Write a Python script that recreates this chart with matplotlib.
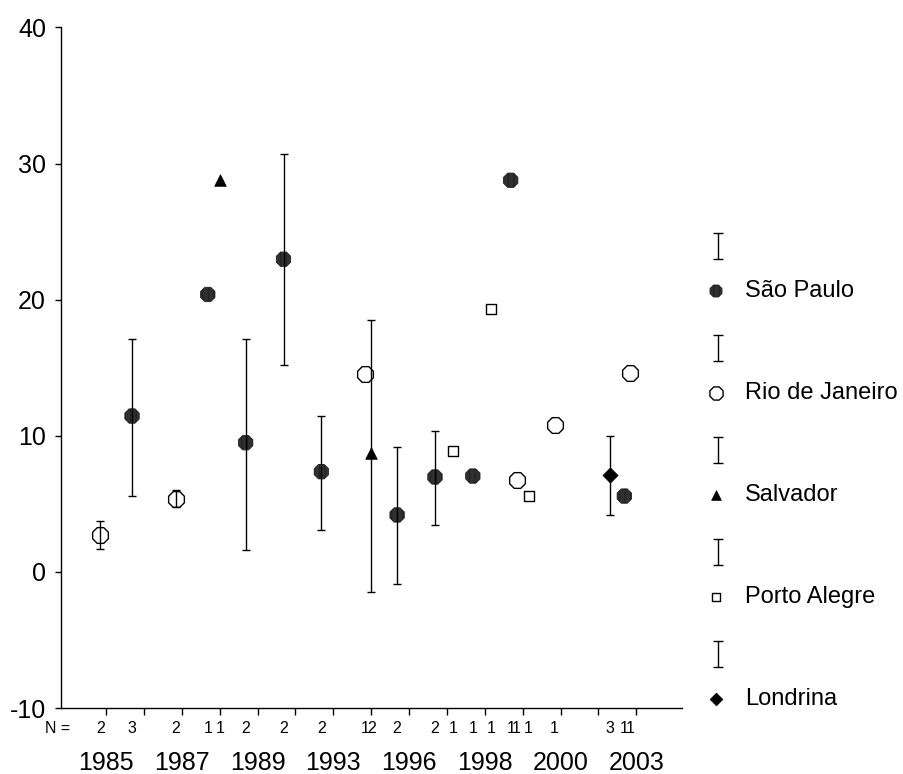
import numpy as np
import matplotlib
matplotlib.use("Agg")
import matplotlib.pyplot as plt

plt.rcParams['font.family'] = ['Liberation Sans', 'DejaVu Sans']
plt.rcParams['axes.unicode_minus'] = False
plt.rcParams['hatch.color'] = '#6a6a6a'
plt.rcParams['hatch.linewidth'] = 0.8

# ---- data ----
years = [1985, 1986, 1987, 1988, 1989, 1990, 1993, 1995,
         1996, 1997, 1998, 1999, 2000, 2002, 2003]
nan = np.nan

cities = ['São Paulo', 'Rio de Janeiro', 'Salvador', 'Porto Alegre', 'Londrina']

sp_years = [1986, 1988, 1989, 1990, 1993, 1996, 1997, 1998, 1999, 2003]
sp_mean = [11.45, 20.38, 9.49, 22.97, 7.36, 4.18, 6.97, 7.04, 28.77, 5.57]
sp_lo = [5.6, nan, 1.61, 15.19, 3.1, -0.89, 3.47, nan, nan, nan]
sp_hi = [17.12, nan, 17.12, 30.68, 11.47, 9.15, 10.34, nan, nan, nan]
sp_n = [3, 1, 2, 2, 2, 2, 2, 1, 1, 1]

rio_years = [1985, 1987, 1995, 1999, 2000, 2003]
rio_mean = [2.73, 5.35, 14.53, 6.72, 10.81, 14.6]
rio_lo = [1.70, 4.74, nan, nan, nan, nan]
rio_hi = [3.76, 5.99, nan, nan, nan, nan]
rio_n = [2, 2, 1, 1, 1, 1]

salv_years = [1988, 1995]
salv_mean = [28.82, 8.7]
salv_lo = [nan, -1.45]
salv_hi = [nan, 18.5]
salv_n = [1, 2]

poa_years = [1997, 1998, 1999]
poa_mean = [8.88, 19.28, 5.6]
poa_lo = [nan, nan, nan]
poa_hi = [nan, nan, nan]
poa_n = [1, 1, 1]

lond_years = [2002]
lond_mean = [7.11]
lond_lo = [4.2]
lond_hi = [9.98]
lond_n = [3]

series = [
    (sp_years, sp_mean, sp_lo, sp_hi, sp_n),
    (rio_years, rio_mean, rio_lo, rio_hi, rio_n),
    (salv_years, salv_mean, salv_lo, salv_hi, salv_n),
    (poa_years, poa_mean, poa_lo, poa_hi, poa_n),
    (lond_years, lond_mean, lond_lo, lond_hi, lond_n),
]

# marker styles per city
styles = [
    dict(marker='8', s=125, facecolor='#303030', edgecolor='#202020', hatch='|||', lw=0.6),
    dict(marker='8', s=150, facecolor='white', edgecolor='black', lw=1.0),
    dict(marker='^', s=70, facecolor='black', edgecolor='black', lw=0.5),
    dict(marker='s', s=55, facecolor='white', edgecolor='black', lw=1.0),
    dict(marker='D', s=60, facecolor='black', edgecolor='black', lw=0.5),
]
offset = 0.158  # cluster spacing inside a year

fig = plt.figure(figsize=(9.04, 7.74), dpi=100)
ax = fig.add_axes([60.7/904, 66/774, 621/904, 680.6/774])

for k, (yr, mean, lo, hi, n) in enumerate(series):
    x = np.array([years.index(v) for v in yr]) + (k - 2) * offset
    mean = np.array(mean)
    lo = np.array(lo)
    hi = np.array(hi)
    ax.scatter(x, mean, zorder=2, **styles[k])
    has = ~np.isnan(lo)
    if has.any():
        ax.errorbar(x[has], mean[has], yerr=[mean[has] - lo[has], hi[has] - mean[has]],
                    fmt='none', ecolor='black', elinewidth=1.0, capsize=2.6,
                    capthick=1.0, zorder=3)
    for xi, ni in zip(x, n):
        ax.annotate(str(ni), xy=(xi, 0), xycoords=('data', 'axes fraction'),
                    xytext=(0, -15), textcoords='offset points',
                    ha='center', va='center', fontsize=11.5)

ax.annotate('N =', xy=(0, 0), xycoords='axes fraction', xytext=(7, -15),
            textcoords='offset points', ha='right', va='center', fontsize=11.5)

ax.set_xlim(-1.2, 15.2)
ax.set_ylim(-10, 40)
ax.set_yticks([-10, 0, 10, 20, 30, 40])
ax.set_xticks(range(len(years)))
ax.set_xticklabels([str(v) if i % 2 == 0 else '' for i, v in enumerate(years)])
ax.tick_params(axis='x', length=5, width=1.0, pad=26, labelsize=18)
ax.tick_params(axis='y', length=4.5, width=1.0, pad=6, labelsize=18)
for s in ['top', 'right']:
    ax.spines[s].set_visible(False)
for s in ['left', 'bottom']:
    ax.spines[s].set_linewidth(1.0)

# ---- legend drawn by hand, SPSS style ----
lax = fig.add_axes([690/904, 0, 214/904, 1])
lax.set_xlim(690, 904)
lax.set_ylim(774, 0)
lax.axis('off')
for k, name in enumerate(cities):
    y_bar = 246 + 102 * k
    y_mk = 291 + 102 * k
    lax.errorbar([718], [y_bar], yerr=[[13], [13]], fmt='none', ecolor='black',
                 elinewidth=1.0, capsize=3.6, capthick=1.0)
    st = dict(styles[k])
    st['s'] = st['s'] * 0.7
    lax.scatter([716], [y_mk], **st)
    lax.text(745, y_mk, name, ha='left', va='center', fontsize=17)

fig.savefig('out.png', dpi=100)
